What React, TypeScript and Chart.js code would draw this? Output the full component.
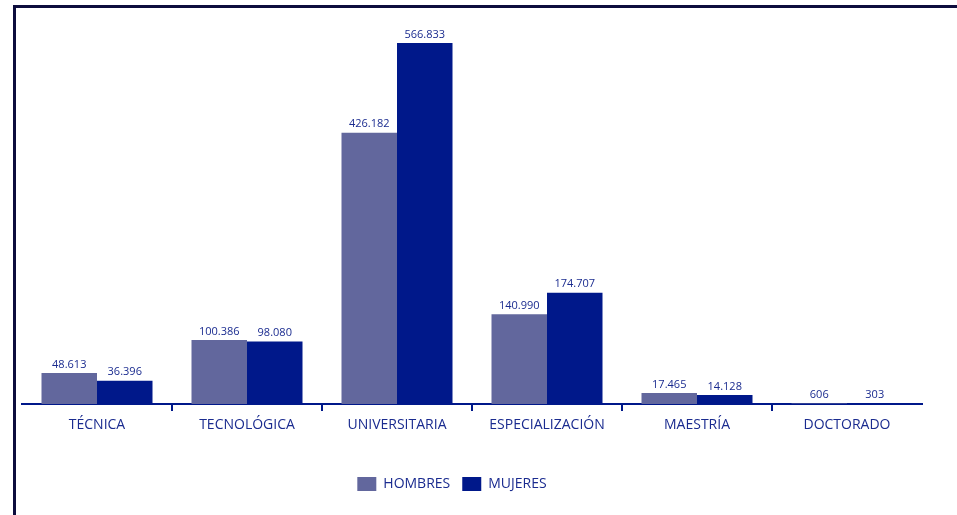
import React, { useEffect, useRef } from "react";
import { Chart, registerables } from "chart.js";

Chart.register(...registerables);

const categories = ["TÉCNICA", "TECNOLÓGICA", "UNIVERSITARIA", "ESPECIALIZACIÓN", "MAESTRÍA", "DOCTORADO"];
const hombres = [48613, 100386, 426182, 140990, 17465, 606];
const mujeres = [36396, 98080, 566833, 174707, 14128, 303];
const seriesNames = ["HOMBRES", "MUJERES"];

const HOMBRES_COLOR = "#62679d";
const MUJERES_COLOR = "#00188a";
const TEXT_COLOR = "#1a2b8f";
const FRAME_COLOR = "#0d0d3d";
const FONT = "'Open Sans', 'Noto Sans', sans-serif";

const fmt = (v: number) => v.toLocaleString("de-DE");

const framePlugin = {
  id: "frame",
  beforeDraw(chart: any) {
    const ctx = chart.ctx;
    ctx.save();
    ctx.fillStyle = FRAME_COLOR;
    ctx.fillRect(13, 5, 3, chart.height - 5);
    ctx.fillRect(13, 5, chart.width - 13, 3);
    ctx.restore();
  },
};

const legendShift = {
  id: "legendShift",
  afterLayout(chart: any) {
    if (chart.legend) {
      chart.legend.left -= 20;
      chart.legend.right -= 20;
    }
  },
};

const valueLabels = {
  id: "valueLabels",
  afterDatasetsDraw(chart: any) {
    const ctx = chart.ctx;
    ctx.save();
    ctx.font = `11px ${FONT}`;
    ctx.fillStyle = TEXT_COLOR;
    ctx.textAlign = "center";
    ctx.textBaseline = "bottom";
    chart.data.datasets.forEach((ds: any, di: number) => {
      const meta = chart.getDatasetMeta(di);
      meta.data.forEach((bar: any, i: number) => {
        ctx.fillText(fmt(ds.data[i]), bar.x, bar.y - 3);
      });
    });
    ctx.restore();
  },
};

export default function App() {
  const ref = useRef<HTMLCanvasElement>(null);
  useEffect(() => {
    if (!ref.current) return;
    const chart = new Chart(ref.current, {
      type: "bar",
      data: {
        labels: categories,
        datasets: [
          { label: seriesNames[0], data: hombres, backgroundColor: HOMBRES_COLOR },
          { label: seriesNames[1], data: mujeres, backgroundColor: MUJERES_COLOR },
        ],
      },
      options: {
        animation: false,
        responsive: false,
        maintainAspectRatio: false,
        devicePixelRatio: 1,
        layout: { padding: { left: 22, right: 35, top: 22, bottom: 14 } },
        datasets: { bar: { categoryPercentage: 0.74, barPercentage: 1 } },
        plugins: {
          legend: {
            position: "bottom",
            labels: {
              boxWidth: 19,
              boxHeight: 14,
              padding: 12,
              color: TEXT_COLOR,
              font: { family: FONT, size: 14 },
            },
          },
          tooltip: { enabled: false },
        },
        scales: {
          y: { display: false, min: 0, max: 600000 },
          x: {
            border: { display: true, color: MUJERES_COLOR, width: 2 },
            grid: {
              offset: true,
              drawOnChartArea: false,
              drawTicks: true,
              tickLength: 7,
              lineWidth: 2,
              color: (c: any) =>
                c.type !== "tick" || c.index === 0 ? "rgba(0,0,0,0)" : MUJERES_COLOR,
            },
            ticks: {
              color: TEXT_COLOR,
              padding: 6,
              font: { family: FONT, size: 14 },
              maxRotation: 0,
              autoSkip: false,
            },
            afterFit: (scale: any) => {
              scale.height = 61;
            },
          },
        },
      },
      plugins: [framePlugin, legendShift, valueLabels],
    });
    return () => chart.destroy();
  }, []);
  return (
    <div style={{ position: "fixed", left: 0, top: 0, width: 957, height: 515, background: "#fff" }}>
      <canvas ref={ref} width={957} height={515} style={{ display: "block" }} />
    </div>
  );
}
